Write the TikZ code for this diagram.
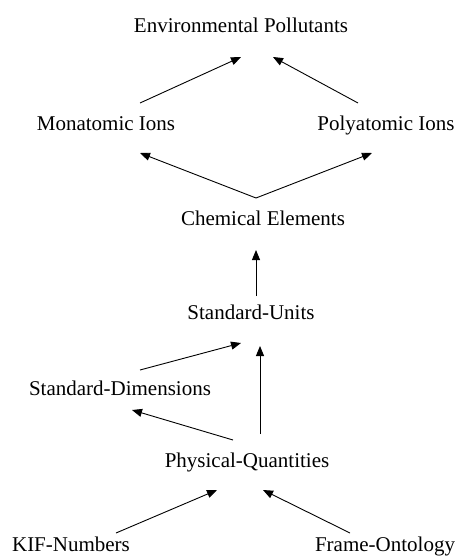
\documentclass[tikz,border=0pt]{standalone}
\usepackage{fontspec}
\setmainfont{Liberation Serif}
\usetikzlibrary{arrows.meta}
\begin{document}
\begin{tikzpicture}[x=1pt,y=-1pt,
  lbl/.style={anchor=base,inner sep=0pt,font=\fontsize{21}{24}\selectfont},
  arr/.style={line width=0.9pt,-{Triangle[length=10pt,width=8pt]}}]
\useasboundingbox (0,0) rectangle (460,557);
\node[lbl] (env) at (241,32) {Environmental Pollutants};
\node[lbl] (mono) at (106,130) {Monatomic Ions};
\node[lbl] (poly) at (386,130) {Polyatomic Ions};
\node[lbl] (chem) at (263,225) {Chemical Elements};
\node[lbl] (su) at (251,319) {Standard-Units};
\node[lbl] (sd) at (120,395) {Standard-Dimensions};
\node[lbl] (pq) at (247,467) {Physical-Quantities};
\node[lbl] (kif) at (71,551) {KIF-Numbers};
\node[lbl] (fo) at (385,551) {Frame-Ontology};
% connector end points
\coordinate (monoOut) at (140,103);
\coordinate (envInL) at (241,57);
\coordinate (polyOut) at (358,103);
\coordinate (envInR) at (273,57);
\coordinate (chemOut) at (256,198);
\coordinate (monoIn) at (140,153);
\coordinate (polyIn) at (372,153);
\coordinate (suOut) at (256,296);
\coordinate (chemIn) at (256,250);
\coordinate (sdOut) at (140,370);
\coordinate (suInL) at (241,343);
\coordinate (pqOutV) at (260,434);
\coordinate (suInV) at (260,346);
\coordinate (pqOutL) at (233,440);
\coordinate (sdIn) at (132,410);
\coordinate (kifOut) at (116,533);
\coordinate (pqInL) at (217,490);
\coordinate (foOut) at (350,533);
\coordinate (pqInR) at (263,490);
\draw[arr] (monoOut) -- (envInL);
\draw[arr] (polyOut) -- (envInR);
\draw[arr] (chemOut) -- (monoIn);
\draw[arr] (chemOut) -- (polyIn);
\draw[arr] (suOut) -- (chemIn);
\draw[arr] (sdOut) -- (suInL);
\draw[arr] (pqOutV) -- (suInV);
\draw[arr] (pqOutL) -- (sdIn);
\draw[arr] (kifOut) -- (pqInL);
\draw[arr] (foOut) -- (pqInR);
\end{tikzpicture}
\end{document}
